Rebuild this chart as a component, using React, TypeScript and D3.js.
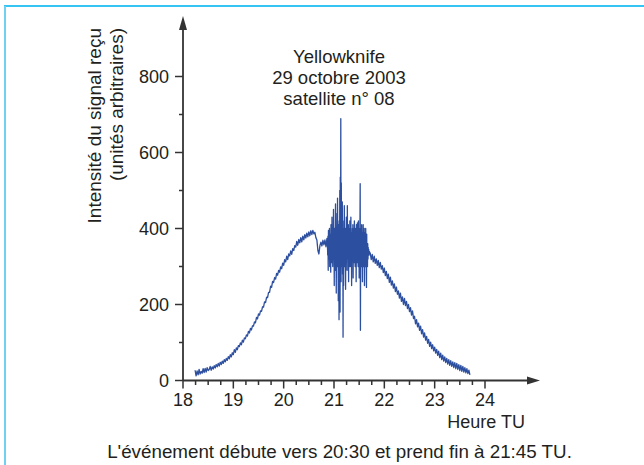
import React from "react";
import * as d3 from "d3";

// Rising part of the signal: first hour, step (hours), intensities (arbitrary units)
const riseStart = 18.24;
const riseStep = 0.02;
const signalRise: number[] = [
  27, 12, 25, 15, 29, 17, 24, 19, 31, 21,
  32, 22, 34, 26, 29, 37, 27, 36, 30, 39,
  33, 42, 36, 45, 38, 48, 42, 51, 45, 55,
  49, 58, 53, 63, 57, 68, 62, 73, 68, 81,
  74, 86, 81, 92, 89, 99, 94, 106, 101, 112,
  110, 120, 117, 129, 125, 137, 133, 144, 143, 154,
  152, 166, 162, 175, 172, 183, 182, 194, 193, 207,
  205, 219, 218, 232, 232, 248, 245, 261, 258, 271,
  267, 282, 277, 290, 285, 299, 294, 309, 303, 318,
  312, 327, 318, 333, 328, 341, 332, 347, 342, 355,
  351, 366, 356, 371, 362, 376, 365, 380, 370, 384,
  375, 388, 378, 391, 381, 394, 384, 395, 386, 390,
  376, 370, 342, 333, 355, 364, 354, 369, 357, 370,
  352, 374,
];

// Scintillation burst, sampled more finely
const burstStart = 20.87;
const burstStep = 0.005;
const signalBurst: number[] = [
  355, 330, 380, 290, 395, 320, 365, 340, 400, 300,
  385, 330, 360, 285, 410, 340, 370, 310, 430, 350,
  395, 300, 380, 340, 450, 320, 385, 250, 400, 330,
  370, 290, 465, 340, 380, 230, 400, 330, 440, 300,
  480, 320, 390, 210, 410, 330, 160, 420, 300, 500,
  180, 535, 320, 689, 260, 520, 330, 450, 300, 470,
  280, 420, 114, 400, 250, 380, 320, 460, 300, 390,
  330, 400, 240, 380, 310, 430, 340, 370, 290, 460,
  320, 390, 350, 410, 260, 380, 330, 400, 300, 420,
  340, 380, 300, 430, 330, 370, 250, 390, 320, 400,
  330, 410, 270, 380, 340, 400, 310, 420, 330, 370,
  300, 400, 340, 380, 260, 410, 330, 390, 310, 415,
  340, 380, 300, 420, 330, 395, 270, 400, 320, 385,
  518, 132, 400, 320, 380, 300, 410, 340, 370, 260,
  390, 330, 410, 300, 380, 340, 400, 250, 390, 320,
  380, 300, 400, 330, 370, 245, 385, 320, 360, 300,
  360, 320, 350, 330, 345, 330, 340,
];

// Falling part of the signal
const fallStart = 21.72;
const fallStep = 0.02;
const signalFall: number[] = [
  335, 318, 332, 312, 327, 308, 320, 303, 316, 297,
  311, 293, 302, 284, 296, 276, 287, 268, 280, 258,
  272, 251, 262, 243, 254, 234, 246, 227, 236, 217,
  230, 208, 220, 200, 216, 197, 208, 189, 200, 181,
  192, 172, 183, 163, 169, 149, 160, 141, 151, 132,
  143, 123, 134, 114, 125, 106, 116, 98, 108, 90,
  101, 84, 94, 78, 88, 72, 82, 66, 77, 60,
  72, 55, 67, 51, 62, 47, 58, 43, 55, 40,
  52, 37, 49, 34, 47, 31, 45, 29, 42, 26,
  40, 24, 37, 22, 34, 20, 31, 18, 27, 15,
];

const xMajorTicks = [18, 19, 20, 21, 22, 23, 24];
const xMinorTicks = [18.25, 18.5, 18.75, 19.25, 19.5, 19.75, 20.25, 20.5, 20.75, 21.25, 21.5, 21.75, 22.25, 22.5, 22.75, 23.25, 23.5, 23.75];
const yMajorTicks = [0, 200, 400, 600, 800];
const yMinorTicks = [100, 300, 500, 700];

const titleLines = ["Yellowknife", "29 octobre 2003", "satellite n° 08"];
const yTitleLines = ["Intensité du signal reçu", "(unités arbitraires)"];
const xTitle = "Heure TU";
const caption = "L'événement débute vers 20:30 et prend fin à 21:45 TU.";

export default function App() {
  const W = 644;
  const H = 465;
  const x = d3.scaleLinear().domain([18, 24]).range([183, 485]);
  const y = d3.scaleLinear().domain([0, 800]).range([380.5, 76.5]);
  const pts: [number, number][] = [
    ...signalRise.map((v, i) => [riseStart + i * riseStep, v] as [number, number]),
    ...signalBurst.map((v, i) => [burstStart + i * burstStep, v] as [number, number]),
    ...signalFall.map((v, i) => [fallStart + i * fallStep, v] as [number, number]),
  ];
  const line = d3
    .line<[number, number]>()
    .x((d) => x(d[0]))
    .y((d) => y(d[1]));
  const axisColor = "#333";
  const textColor = "#231f20";
  const font = "'Liberation Sans', Arial, sans-serif";
  const x0 = x(18);
  const y0 = y(0);
  return (
    <svg
      width={W}
      height={H}
      style={{ position: "absolute", left: 0, top: 0, background: "#fff" }}
      fontFamily={font}
    >
      <rect x={0} y={0} width={W} height={H} fill="#fff" />
      {/* frame */}
      <line x1={4} y1={6} x2={W} y2={6} stroke="#36c4f2" strokeWidth={2} />
      <line x1={5} y1={6} x2={5} y2={H} stroke="#6fd0f2" strokeWidth={2} />

      {/* signal */}
      <path d={line(pts) || ""} fill="none" stroke="#2d4f9f" strokeWidth={1.3} strokeLinejoin="round" />

      {/* y axis */}
      <line x1={x0} y1={24} x2={x0} y2={y0} stroke={axisColor} strokeWidth={1.8} />
      <polygon points={`${x0},16 ${x0 - 4},30 ${x0 + 4},30`} fill={axisColor} />
      {yMajorTicks.map((t) => (
        <g key={"ym" + t}>
          <line x1={x0 - 8} x2={x0} y1={y(t)} y2={y(t)} stroke={axisColor} strokeWidth={1.5} />
          <text x={x0 - 14} y={y(t)} dy="0.36em" textAnchor="end" fontSize={18} fill={textColor}>
            {t}
          </text>
        </g>
      ))}
      {yMinorTicks.map((t) => (
        <line key={"yn" + t} x1={x0 - 4} x2={x0} y1={y(t)} y2={y(t)} stroke={axisColor} strokeWidth={1.5} />
      ))}

      {/* x axis */}
      <line x1={x0} y1={y0} x2={532} y2={y0} stroke={axisColor} strokeWidth={1.8} />
      <polygon points={`540,${y0} 527,${y0 - 4} 527,${y0 + 4}`} fill={axisColor} />
      {xMajorTicks.map((t) => (
        <g key={"xm" + t}>
          <line x1={x(t)} x2={x(t)} y1={y0} y2={y0 + 8} stroke={axisColor} strokeWidth={1.5} />
          <text x={x(t)} y={406} textAnchor="middle" fontSize={18} fill={textColor}>
            {t}
          </text>
        </g>
      ))}
      {xMinorTicks.map((t) => (
        <line key={"xn" + t} x1={x(t)} x2={x(t)} y1={y0} y2={y0 + 4.5} stroke={axisColor} strokeWidth={1.5} />
      ))}

      {/* titles */}
      {titleLines.map((s, i) => (
        <text key={s} x={339} y={63 + i * 21} textAnchor="middle" fontSize={18.5} fill={textColor}>
          {s}
        </text>
      ))}
      {yTitleLines.map((s, i) => (
        <text
          key={s}
          transform={`translate(${101 + i * 22},28) rotate(-90)`}
          textAnchor="end"
          fontSize={19}
          fill={textColor}
        >
          {s}
        </text>
      ))}
      <text x={525} y={428} textAnchor="end" fontSize={18} fill={textColor}>
        {xTitle}
      </text>
      <text x={339.5} y={458} textAnchor="middle" fontSize={18.8} fill={textColor}>
        {caption}
      </text>
    </svg>
  );
}
